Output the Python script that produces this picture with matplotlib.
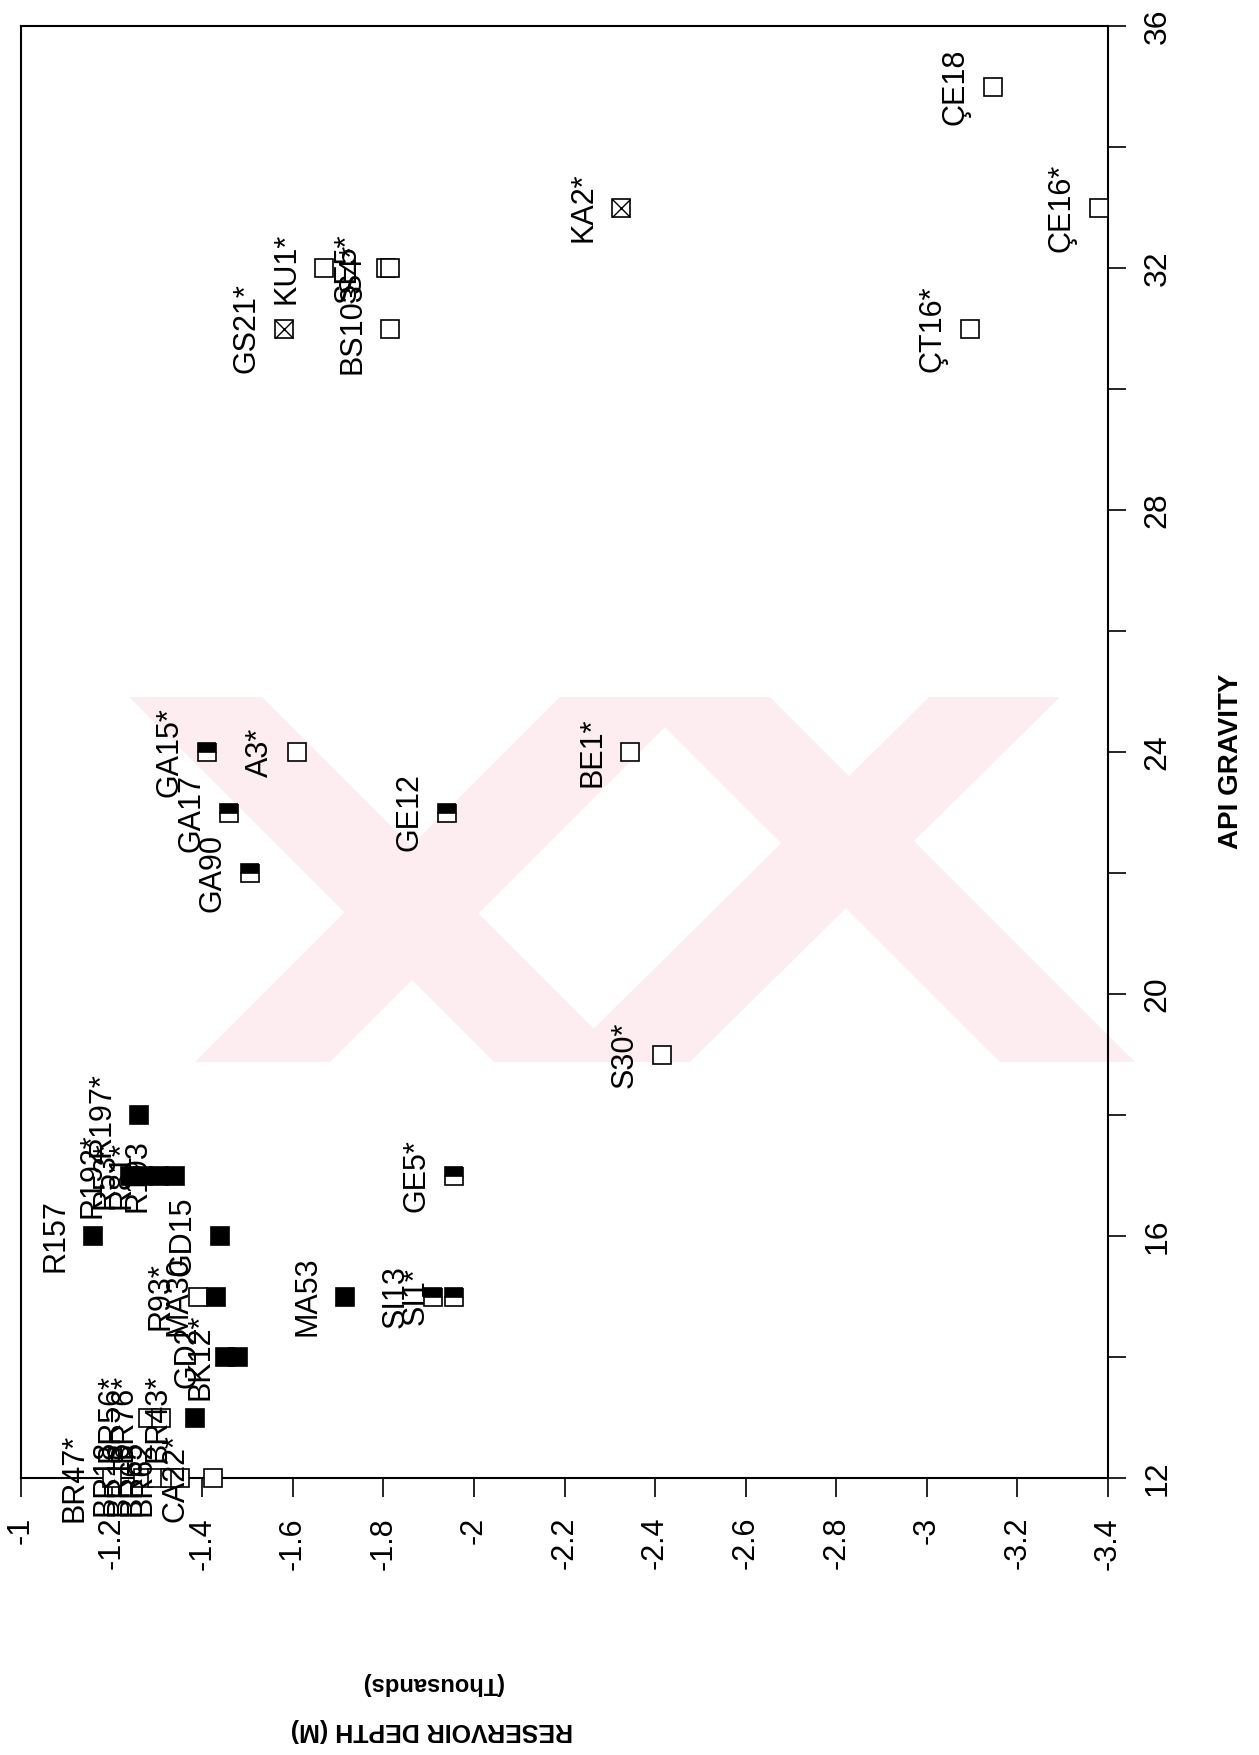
import matplotlib
matplotlib.use("Agg")
import matplotlib.pyplot as plt
from matplotlib.patches import Polygon

plt.rcParams['font.family'] = ['Liberation Sans', 'DejaVu Sans']

# Oil samples: name, reservoir depth (thousands of m, negative down), API gravity, group
names = ['R157', 'R197*', 'R192*', 'R53*', 'R81*', 'R193', 'GD15', 'R93*', 'MA30',
         'GD2', 'BK12*', 'MA53', 'SI13', 'SI1*', 'GE5*', 'BR47*', 'BR18', 'BR16',
         'BR65', 'BR62', 'CA22*', 'BR56*', 'BR76*', 'BR43*', 'GA15*', 'GA17', 'GA90',
         'A3*', 'GE12', 'BE1*', 'S30*', 'GS21*', 'KU1*', 'BS103', 'SE5*', 'S4*',
         'KA2*', 'ÇT16*', 'ÇE16*', 'ÇE18']
depth = [-1.16, -1.26, -1.24, -1.27, -1.305, -1.34, -1.44, -1.39, -1.43,
         -1.45, -1.48, -1.715, -1.91, -1.955, -1.955, -1.20, -1.27, -1.30,
         -1.33, -1.35, -1.425, -1.28, -1.31, -1.385, -1.41, -1.46, -1.505,
         -1.61, -1.94, -2.345, -2.415, -1.58, -1.67, -1.815, -1.805, -1.815,
         -2.325, -3.095, -3.38, -3.145]
api = [16, 18, 17, 17, 17, 17, 16, 15, 15,
       14, 14, 15, 15, 15, 17, 12, 12, 12,
       12, 12, 12, 13, 13, 13, 24, 23, 22,
       24, 23, 24, 19, 31, 32, 31, 32, 32,
       33, 31, 33, 35]
group = ['A', 'A', 'A', 'A', 'A', 'A', 'A', 'C', 'A',
         'A', 'A', 'A', 'B', 'B', 'B', 'C', 'C', 'C',
         'C', 'C', 'C', 'C', 'C', 'A', 'B', 'B', 'B',
         'C', 'B', 'C', 'C', 'D', 'C', 'C', 'C', 'C',
         'D', 'C', 'C', 'C']

depth_ticks = [-1, -1.2, -1.4, -1.6, -1.8, -2, -2.2, -2.4, -2.6, -2.8, -3, -3.2, -3.4]
depth_labels = ['-1', '-1.2', '-1.4', '-1.6', '-1.8', '-2', '-2.2', '-2.4', '-2.6',
                '-2.8', '-3', '-3.2', '-3.4']
api_ticks = [12, 16, 20, 24, 28, 32, 36]

W, H = 1259, 1755
fig = plt.figure(figsize=(W / 100, H / 100), dpi=100)
ax = fig.add_axes([21 / W, 1 - 1478 / H, (1108 - 21) / W, (1478 - 26) / H])
ax.set_xlim(-1, -3.4)
ax.set_ylim(12, 36)

# faint logo stamped behind the plot
stamp = [
    [(129, 697), (262, 697), (627, 1062), (494, 1062)],
    [(195, 1062), (330, 1062), (695, 697), (560, 697)],
    [(635, 697), (770, 697), (1135, 1062), (1000, 1062)],
    [(560, 1062), (690, 1062), (1060, 697), (929, 697)],
]
for poly in stamp:
    pts = [(x / W, 1 - y / H) for x, y in poly]
    ax.add_patch(Polygon(pts, closed=True, transform=fig.transFigure,
                         facecolor='#feedf0', edgecolor='none', zorder=0.5,
                         clip_on=False))

marker_styles = {
    'A': dict(marker='s', markerfacecolor='black'),
    'B': dict(marker='s', fillstyle='top', markerfacecolor='black',
              markerfacecoloralt='white'),
    'C': dict(marker='s', markerfacecolor='white'),
    'D': dict(marker='s', markerfacecolor='white'),
}

for name, d, a, g in zip(names, depth, api, group):
    ax.plot(d, a, linestyle='none', markersize=12.5, markeredgecolor='black',
            markeredgewidth=1.2, clip_on=False, zorder=3, **marker_styles[g])
    if g == 'D':
        ax.plot(d, a, linestyle='none', marker='x', markersize=12.5,
                markeredgecolor='black', markeredgewidth=1.0, clip_on=False, zorder=4)
    ax.annotate(name, (d, a), xytext=(-27, 0), textcoords='offset points',
                rotation=90, ha='center', va='center', fontsize=22, zorder=5)

for side in ['left', 'right', 'top', 'bottom']:
    ax.spines[side].set_linewidth(1.5)

ax.set_xticks(depth_ticks)
ax.set_xticklabels(depth_labels, rotation=90, fontsize=22)
ax.tick_params(axis='x', direction='out', length=14, width=1.2, pad=14)

ax.yaxis.tick_right()
ax.set_yticks(api_ticks)
ax.set_yticks(range(14, 36, 4), minor=True)
ax.set_yticklabels([str(v) for v in api_ticks], rotation=90, va='center', fontsize=23)
ax.tick_params(axis='y', which='both', direction='out', length=13, width=1.2, pad=12)

fig.text(1231 / W, 1 - 761 / H, 'API GRAVITY', rotation=90, ha='center',
         va='center', fontsize=20, fontweight='bold')
fig.text(432 / W, 1 - 1683 / H, '(Thousands)', rotation=180, ha='center',
         va='center', fontsize=17, fontweight='bold')
fig.text(432 / W, 1 - 1730 / H, 'RESERVOIR DEPTH (M)', rotation=180, ha='center',
         va='center', fontsize=18, fontweight='bold')

fig.savefig('out.png', dpi=100)
